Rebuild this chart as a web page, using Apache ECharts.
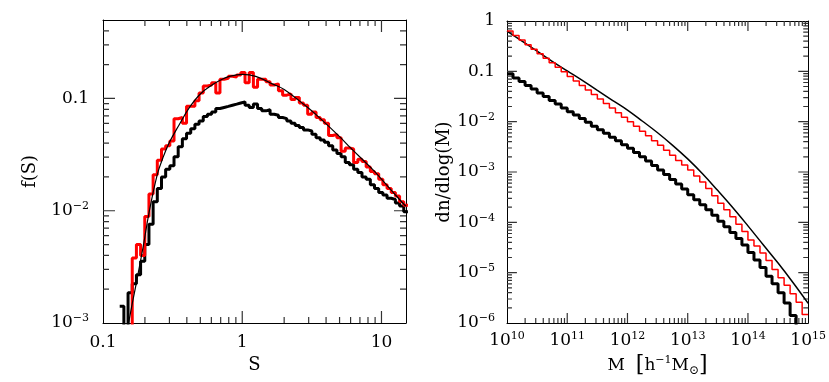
<!DOCTYPE html>
<html><head><meta charset="utf-8">
<script src="https://cdn.jsdelivr.net/npm/echarts@6/dist/echarts.min.js"></script>
<style>html,body{margin:0;padding:0;background:#fff}#c{width:829px;height:382px}</style>
</head><body><div id="c"></div>
<script>
// ---------- Left panel: f(S) ----------
const leftBinLogStart = -0.88, leftBinLogWidth = 0.03;   // log10(S) bin edges
const leftRedF = [0.0002,0.0002,0.0002,0.0038,0.0050,0.0040,0.0089,0.0141,0.0209,0.0282,
  0.0355,0.038,0.0417,0.066,0.0676,0.0603,0.0851,0.0851,0.0955,0.112,
  0.129,0.132,0.138,0.112,0.148,0.151,0.158,0.155,0.162,0.170,
  0.138,0.170,0.126,0.148,0.148,0.141,0.132,0.135,0.117,0.107,
  0.110,0.0977,0.102,0.0912,0.0871,0.0724,0.0759,0.0676,0.0646,0.0603,
  0.0468,0.0479,0.0447,0.0339,0.0363,0.0355,0.0269,0.0288,0.0275,0.0245,
  0.0224,0.0214,0.0191,0.0170,0.0158,0.0145,0.0135,0.0120,0.0112];
const leftBlackF = [0.00141,0.00063,0.00186,0.00224,0.00269,0.00355,0.0050,0.00759,0.0120,0.0158,
  0.0200,0.0234,0.0251,0.0302,0.0372,0.0437,0.049,0.0537,0.0589,0.0631,
  0.0692,0.0724,0.0759,0.0813,0.0832,0.0851,0.0871,0.0891,0.0912,0.0933,
  0.0871,0.0832,0.0891,0.0813,0.0776,0.0794,0.0724,0.0708,0.0676,0.0661,
  0.0631,0.0603,0.0575,0.0550,0.0525,0.0513,0.0479,0.0447,0.0427,0.0407,
  0.0380,0.0347,0.0324,0.0302,0.0269,0.0257,0.0234,0.0219,0.0200,0.0191,
  0.0170,0.0158,0.0145,0.0138,0.0129,0.0126,0.0117,0.0110,0.0098];
const leftCurveS = [0.145,0.153,0.175,0.195,0.213,0.245,0.269,0.30,0.35,0.418,0.50,0.615,0.70,0.80,1.0,1.25,1.66,2.0,2.88,3.5,5.0,6.0,8.67,10.0,12.0,14.6,15.0];
const leftCurveF = [0.0006,0.001,0.0024,0.0049,0.0093,0.0209,0.0295,0.0407,0.0575,0.0832,0.1096,0.1334,0.1462,0.1567,0.1637,0.1574,0.1343,0.1202,0.0851,0.0692,0.0457,0.0363,0.0232,0.0191,0.0148,0.0113,0.011];
const leftXTicks = [0.1, 1, 10], leftXTickLabels = ['0.1', '1', '10'];
const leftYTicks = [0.001, 0.01, 0.1], leftYTickLabels = ['10^−3', '10^−2', '0.1'];

// ---------- Right panel: dn/dlog(M) ----------
const rightBinLogStart = 10, rightBinLogWidth = 0.1;     // log10(M) bin edges
const rightRedN = [0.631,0.513,0.417,0.339,0.275,0.224,0.182,0.148,0.120,0.0977,
  0.0794,0.0646,0.0525,0.0427,0.0347,0.0282,0.0229,0.0186,0.0151,0.0123,
  0.0100,0.00813,0.00646,0.00525,0.00417,0.00339,0.00269,0.00214,0.00170,0.00138,
  0.00110,8.32e-4,6.31e-4,4.68e-4,3.39e-4,2.40e-4,1.78e-4,1.29e-4,9.12e-5,6.61e-5,
  4.47e-5,3.39e-5,2.45e-5,1.74e-5,1.15e-5,7.94e-6,5.62e-6,3.80e-6,2.57e-6,1.48e-6];
const rightBlackN = [0.0891,0.0741,0.0631,0.0525,0.0447,0.0372,0.0316,0.0263,0.0224,0.0186,
  0.0158,0.0135,0.0115,0.00977,0.00813,0.00692,0.00589,0.00490,0.00417,0.00347,
  0.00295,0.00245,0.00200,0.00166,0.00135,0.00110,8.91e-4,7.08e-4,5.75e-4,4.57e-4,
  3.55e-4,2.82e-4,2.24e-4,1.78e-4,1.38e-4,1.05e-4,8.13e-5,6.31e-5,4.79e-5,3.55e-5,
  2.51e-5,1.78e-5,1.26e-5,8.51e-6,6.03e-6,3.98e-6,2.51e-6,1.41e-6,5e-7,5e-7];
const rightCurveM = [1e10,1.778e10,3.162e10,5.623e10,1e11,1.778e11,3.162e11,5.623e11,1e12,1.778e12,3.162e12,5.623e12,
  1e13,1.778e13,3.162e13,5.623e13,1e14,1.778e14,3.162e14,5.623e14,1e15];
const rightCurveN = [0.631,0.398,0.251,0.158,0.102,0.0661,0.0417,0.0266,0.0170,0.0102,0.00603,0.00339,
  0.00182,9.12e-4,4.27e-4,1.95e-4,8.51e-5,3.63e-5,1.55e-5,6.31e-6,2.45e-6];
const rightXTicks = [1e10,1e11,1e12,1e13,1e14,1e15];
const rightXTickLabels = ['10^10','10^11','10^12','10^13','10^14','10^15'];
const rightYTicks = [1e-6,1e-5,1e-4,1e-3,1e-2,0.1,1];
const rightYTickLabels = ['10^−6','10^−5','10^−4','10^−3','10^−2','0.1','1'];

// ---------- helpers ----------
const FONT = 'DejaVu Serif';
const TICK_COLOR = '#333';
function stepData(logStart, logWidth, vals) {
  const out = vals.map((v, i) => [Math.pow(10, logStart + i * logWidth), v]);
  out.push([Math.pow(10, logStart + vals.length * logWidth), vals[vals.length - 1]]);
  return out;
}
function pairs(xs, ys) { return xs.map((x, i) => [x, ys[i]]); }
function richLabel(s) {
  const k = s.indexOf('^');
  if (k < 0) return '{b|' + s + '}';
  return '{b|' + s.slice(0, k) + '}{s|' + s.slice(k + 1) + '}';
}
function lookup(ticks, labels) {
  return function (v) {
    for (let i = 0; i < ticks.length; i++) {
      if (Math.abs(Math.log10(v) - Math.log10(ticks[i])) < 0.01) return richLabel(labels[i]);
    }
    return '';
  };
}
const rich = {
  b: { fontFamily: FONT, fontSize: 17, color: '#000' },
  s: { fontFamily: FONT, fontSize: 11, color: '#000', verticalAlign: 'top', padding: [0, 0, 9, 0] },
  sub: { fontFamily: FONT, fontSize: 12, color: '#000', verticalAlign: 'bottom', padding: [8, 0, 0, 0] },
  br: { fontFamily: FONT, fontSize: 22, color: '#000' }
};
// minor tick values (2..9 x 10^k) strictly inside an axis range
function minorsBetween(lo, hi) {
  const out = [];
  for (let e = Math.floor(Math.log10(lo)); e <= Math.ceil(Math.log10(hi)); e++) {
    for (let m = 2; m <= 9; m++) {
      const v = m * Math.pow(10, e);
      if (v > lo * 1.0001 && v < hi * 0.9999) out.push(v);
    }
  }
  return out;
}
// inward tick segments on all four frame sides, as gapped polyline data on the log axes
function tickSegments(xMaj, yMaj, xr, yr, W, H, majLen, minLen) {
  const d = [];
  const fx = L => Math.pow(10, L * Math.log10(xr[1] / xr[0]) / W);
  const fy = L => Math.pow(10, L * Math.log10(yr[1] / yr[0]) / H);
  function add(a, b) { d.push(a, b, [a[0], '-']); }
  const inside = (v, r) => v > r[0] * 1.0001 && v < r[1] * 0.9999;
  xMaj.filter(v => inside(v, xr)).forEach(v => {
    add([v, yr[0]], [v, yr[0] * fy(majLen)]); add([v, yr[1]], [v, yr[1] / fy(majLen)]);
  });
  minorsBetween(xr[0], xr[1]).forEach(v => {
    add([v, yr[0]], [v, yr[0] * fy(minLen)]); add([v, yr[1]], [v, yr[1] / fy(minLen)]);
  });
  yMaj.filter(v => inside(v, yr)).forEach(v => {
    add([xr[0], v], [xr[0] * fx(majLen), v]); add([xr[1], v], [xr[1] / fx(majLen), v]);
  });
  minorsBetween(yr[0], yr[1]).forEach(v => {
    add([xr[0], v], [xr[0] * fx(minLen), v]); add([xr[1], v], [xr[1] / fx(minLen), v]);
  });
  return d;
}

const LX = [0.1, 15], LY = [0.001, 0.5];
const RX = [1e10, 1e15], RY = [1e-6, 1];
const LG = { left: 103, top: 20, width: 303, height: 303 };
const RG = { left: 507, top: 21, width: 304, height: 302 };

const axisLine = { show: true, lineStyle: { color: '#000', width: 1 } };
function xAxisPair(gi, r, ticks, labels, name, nameGap, margin) {
  return [
    { type: 'log', gridIndex: gi, min: r[0], max: r[1], position: 'bottom', axisLine,
      axisTick: { show: false }, splitLine: { show: false },
      axisLabel: { formatter: lookup(ticks, labels), rich, margin, showMinLabel: true, showMaxLabel: true, hideOverlap: false },
      name, nameLocation: 'middle', nameGap,
      nameTextStyle: { fontFamily: FONT, fontSize: 18, color: '#000', rich } },
    { type: 'log', gridIndex: gi, min: r[0], max: r[1], position: 'top', axisLine,
      axisTick: { show: false }, splitLine: { show: false }, axisLabel: { show: false } }
  ];
}
function yAxisPair(gi, r, ticks, labels, name, nameGap, margin) {
  return [
    { type: 'log', gridIndex: gi, min: r[0], max: r[1], position: 'left', axisLine,
      axisTick: { show: false }, splitLine: { show: false },
      axisLabel: { formatter: lookup(ticks, labels), rich, margin, showMinLabel: true, showMaxLabel: true, hideOverlap: false },
      name, nameLocation: 'middle', nameGap,
      nameTextStyle: { fontFamily: FONT, fontSize: 18, color: '#000' } },
    { type: 'log', gridIndex: gi, min: r[0], max: r[1], position: 'right', axisLine,
      axisTick: { show: false }, splitLine: { show: false }, axisLabel: { show: false } }
  ];
}

const option = {
  animation: false,
  grid: [LG, RG],
  xAxis: [
    ...xAxisPair(0, LX, leftXTicks, leftXTickLabels, 'S', 33, 11),
    ...xAxisPair(1, RX, rightXTicks, rightXTickLabels, '{b|M  }{br|[}{b|h}{s|−1}{b|M}{sub|⊙}{br|]}', 30, 8)
  ],
  yAxis: [
    ...yAxisPair(0, LY, leftYTicks, leftYTickLabels, 'f(S)', 64, 14),
    ...yAxisPair(1, RY, rightYTicks, rightYTickLabels, 'dn/dlog(M)', 54, 12)
  ],
  series: [
    { type: 'line', xAxisIndex: 0, yAxisIndex: 0, showSymbol: false, connectNulls: false, silent: true,
      data: tickSegments(leftXTicks, leftYTicks, LX, LY, LG.width, LG.height, 12, 6),
      lineStyle: { color: TICK_COLOR, width: 1.2 } },
    { type: 'line', xAxisIndex: 2, yAxisIndex: 2, showSymbol: false, connectNulls: false, silent: true,
      data: tickSegments(rightXTicks, rightYTicks, RX, RY, RG.width, RG.height, 10, 5),
      lineStyle: { color: TICK_COLOR, width: 1.2 } },

    { type: 'line', xAxisIndex: 0, yAxisIndex: 0, step: 'end', showSymbol: false,
      data: stepData(leftBinLogStart, leftBinLogWidth, leftBlackF),
      lineStyle: { color: '#000', width: 3 } },
    { type: 'line', xAxisIndex: 0, yAxisIndex: 0, step: 'end', showSymbol: false,
      data: stepData(leftBinLogStart, leftBinLogWidth, leftRedF),
      lineStyle: { color: '#ff0000', width: 3 } },
    { type: 'line', xAxisIndex: 0, yAxisIndex: 0, smooth: 0.4, showSymbol: false,
      data: pairs(leftCurveS, leftCurveF),
      lineStyle: { color: '#000', width: 1.2 } },

    { type: 'line', xAxisIndex: 2, yAxisIndex: 2, smooth: 0.4, showSymbol: false,
      data: pairs(rightCurveM, rightCurveN),
      lineStyle: { color: '#000', width: 1.5 } },
    { type: 'line', xAxisIndex: 2, yAxisIndex: 2, step: 'end', showSymbol: false,
      data: stepData(rightBinLogStart, rightBinLogWidth, rightRedN),
      lineStyle: { color: '#ff0000', width: 1.5 } },
    { type: 'line', xAxisIndex: 2, yAxisIndex: 2, step: 'end', showSymbol: false,
      data: stepData(rightBinLogStart, rightBinLogWidth, rightBlackN),
      lineStyle: { color: '#000', width: 3 } }
  ]
};
const chart = echarts.init(document.getElementById('c'));
chart.setOption(option);
</script></body></html>
